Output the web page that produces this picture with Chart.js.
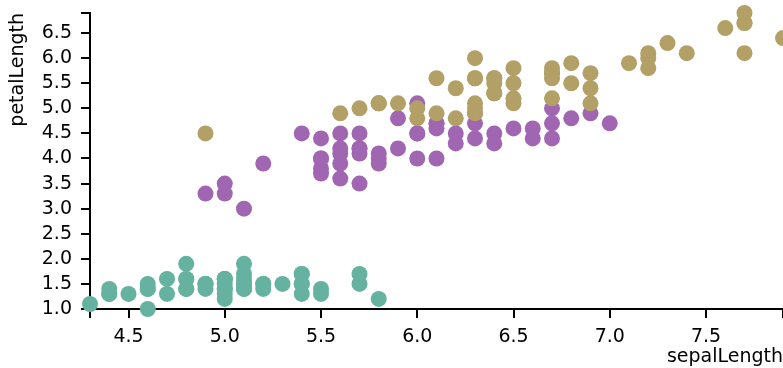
<!DOCTYPE html>
<html>
<head>
<meta charset="utf-8">
<script src="https://cdn.jsdelivr.net/npm/chart.js@4/dist/chart.umd.min.js"></script>
<style>
  html, body { margin: 0; padding: 0; background: #fff; }
  canvas { display: block; }
</style>
</head>
<body>
<canvas id="chart" width="783" height="368"></canvas>
<script>
// --- Iris data: sepalLength (x) vs petalLength (y) ---
const setosaSepal = [5.1,4.9,4.7,4.6,5.0,5.4,4.6,5.0,4.4,4.9,5.4,4.8,4.8,4.3,5.8,5.7,5.4,5.1,5.7,5.1,5.4,5.1,4.6,5.1,4.8,5.0,5.0,5.2,5.2,4.7,4.8,5.4,5.2,5.5,4.9,5.0,5.5,4.9,4.4,5.1,5.0,4.5,4.4,5.0,5.1,4.8,5.1,4.6,5.3,5.0];
const setosaPetal = [1.4,1.4,1.3,1.5,1.4,1.7,1.4,1.5,1.4,1.5,1.5,1.6,1.4,1.1,1.2,1.5,1.3,1.4,1.7,1.5,1.7,1.5,1.0,1.7,1.9,1.6,1.6,1.5,1.4,1.6,1.6,1.5,1.5,1.4,1.5,1.2,1.3,1.5,1.3,1.5,1.3,1.3,1.3,1.6,1.9,1.4,1.6,1.4,1.5,1.4];

const versicolorSepal = [7.0,6.4,6.9,5.5,6.5,5.7,6.3,4.9,6.6,5.2,5.0,5.9,6.0,6.1,5.6,6.7,5.6,5.8,6.2,5.6,5.9,6.1,6.3,6.1,6.4,6.6,6.8,6.7,6.0,5.7,5.5,5.5,5.8,6.0,5.4,6.0,6.7,6.3,5.6,5.5,5.5,6.1,5.8,5.0,5.6,5.7,5.7,6.2,5.1,5.7];
const versicolorPetal = [4.7,4.5,4.9,4.0,4.6,4.5,4.7,3.3,4.6,3.9,3.5,4.2,4.0,4.7,3.6,4.4,4.5,4.1,4.5,3.9,4.8,4.0,4.9,4.7,4.3,4.4,4.8,5.0,4.5,3.5,3.8,3.7,3.9,5.1,4.5,4.5,4.7,4.4,4.1,4.0,4.4,4.6,4.0,3.3,4.2,4.2,4.2,4.3,3.0,4.1];

const virginicaSepal = [6.3,5.8,7.1,6.3,6.5,7.6,4.9,7.3,6.7,7.2,6.5,6.4,6.8,5.7,5.8,6.4,6.5,7.7,7.7,6.0,6.9,5.6,7.7,6.3,6.7,7.2,6.2,6.1,6.4,7.2,7.4,7.9,6.4,6.3,6.1,7.7,6.3,6.4,6.0,6.9,6.7,6.9,5.8,6.8,6.7,6.7,6.3,6.5,6.2,5.9];
const virginicaPetal = [6.0,5.1,5.9,5.6,5.8,6.6,4.5,6.3,5.8,6.1,5.1,5.3,5.5,5.0,5.1,5.3,5.5,6.7,6.9,5.0,5.7,4.9,6.7,4.9,5.7,6.0,4.8,4.9,5.6,5.8,6.1,6.4,5.6,5.1,5.6,6.1,5.6,5.5,4.8,5.4,5.6,5.1,5.1,5.9,5.7,5.2,5.0,5.2,5.4,5.1];

// --- Axis domains and tick labels ---
const xDomain = [4.3, 7.9];
const yDomain = [1.0, 6.9];
const xTickLabels = [4.5, 5.0, 5.5, 6.0, 6.5, 7.0, 7.5];
const yTickLabels = [1.0, 1.5, 2.0, 2.5, 3.0, 3.5, 4.0, 4.5, 5.0, 5.5, 6.0, 6.5];

function toPoints(xs, ys) {
    return xs.map((x, i) => ({ x: x, y: ys[i] }));
}

// ticks at the labelled values plus the two domain ends (unlabelled)
function tickList(domain, labels) {
    const vals = labels.slice();
    if (!vals.includes(domain[0])) vals.unshift(domain[0]);
    if (!vals.includes(domain[1])) vals.push(domain[1]);
    return vals.map(v => ({ value: v }));
}

function labelFor(labels) {
    return function(value) {
        const hit = labels.some(l => Math.abs(l - value) < 1e-9);
        return hit ? value.toFixed(1) : '';
    };
}

Chart.defaults.font.family = "'DejaVu Sans', sans-serif";
Chart.defaults.font.size = 19;
Chart.defaults.color = '#000';

const pointStyle = { pointRadius: 8, pointHoverRadius: 8, pointBorderWidth: 0, clip: false };

const ctx = document.getElementById('chart').getContext('2d');
new Chart(ctx, {
    type: 'scatter',
    data: {
        datasets: [
            { label: 'setosa', data: toPoints(setosaSepal, setosaPetal), backgroundColor: '#66b2a0', order: 3, ...pointStyle },
            { label: 'versicolor', data: toPoints(versicolorSepal, versicolorPetal), backgroundColor: '#a066b2', order: 2, ...pointStyle },
            { label: 'virginica', data: toPoints(virginicaSepal, virginicaPetal), backgroundColor: '#b2a066', order: 1, ...pointStyle }
        ]
    },
    options: {
        responsive: false,
        animation: false,
        layout: { autoPadding: false, padding: { top: 13, right: 0, bottom: 0, left: 0 } },
        plugins: { legend: { display: false }, tooltip: { enabled: false } },
        scales: {
            x: {
                type: 'linear',
                min: xDomain[0],
                max: xDomain[1],
                afterBuildTicks: s => { s.ticks = tickList(xDomain, xTickLabels); },
                afterFit: s => { s.height = 59; s.paddingLeft = 0; s.paddingRight = 0; },
                grid: { drawOnChartArea: false, drawTicks: true, tickLength: 9, color: '#000', lineWidth: 2 },
                border: { display: true, color: '#000', width: 2 },
                ticks: { callback: labelFor(xTickLabels), autoSkip: false, maxRotation: 0, padding: 8 },
                title: { display: true, text: 'sepalLength', align: 'end', padding: { top: 0, bottom: 0 } }
            },
            y: {
                type: 'linear',
                min: yDomain[0],
                max: yDomain[1],
                afterBuildTicks: s => { s.ticks = tickList(yDomain, yTickLabels); },
                afterFit: s => { s.width = 90; s.paddingTop = 0; s.paddingBottom = 0; },
                grid: { drawOnChartArea: false, drawTicks: true, tickLength: 9, color: '#000', lineWidth: 2 },
                border: { display: true, color: '#000', width: 2 },
                ticks: { callback: labelFor(yTickLabels), autoSkip: false, padding: 9 },
                title: { display: true, text: 'petalLength', align: 'end', padding: { top: 7, bottom: 0 } }
            }
        }
    }
});
</script>
</body>
</html>
